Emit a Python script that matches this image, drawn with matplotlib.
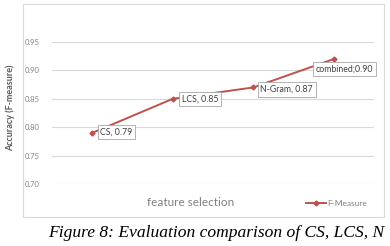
import matplotlib.pyplot as plt
from matplotlib.patches import Rectangle

# data
features = ["CS", "LCS", "N-Gram", "combined"]
f_measure = [0.79, 0.85, 0.87, 0.92]
point_labels = ["CS, 0.79", "LCS, 0.85", "N-Gram, 0.87", "combined;0.90"]
yticks = [0.70, 0.75, 0.80, 0.85, 0.90, 0.95]

line_col = "#C0504D"
grey = "#808080"

fig = plt.figure(figsize=(3.9, 2.46), dpi=100)
W, H = 390, 246

# outer chart frame
fig.patches.append(Rectangle((23 / W, 1 - 217 / H), (384 - 23) / W, (217 - 4) / H,
                             transform=fig.transFigure, fill=False,
                             ec="#d9d9d9", lw=0.8))

ax = fig.add_axes([52 / W, 1 - 184 / H, (374 - 52) / W, (184 - 42) / H])
x = list(range(len(features)))
ax.plot(x, f_measure, color=line_col, lw=1.4, marker="D", ms=2.5, label="F-Measure")

ax.set_xlim(-0.5, len(features) - 0.5)
ax.set_ylim(0.70, 0.95)
ax.set_yticks(yticks)
ax.set_yticklabels([f"{v:.2f}" for v in yticks])
ax.set_xticks([])
ax.grid(axis="y", color="#d9d9d9", lw=0.8)
ax.set_axisbelow(True)
for s in ax.spines.values():
    s.set_visible(False)
ax.tick_params(axis="y", length=0, labelsize=5.5, labelcolor=grey, pad=9)
for t in ax.get_yticklabels():
    t.set_family("Lato")

# data labels
offsets = [(8, 1), (9, 0), (7, -2), (-18, -10)]
for xi, yi, lab, off in zip(x, f_measure, point_labels, offsets):
    ax.annotate(lab, (xi, yi), xytext=off, textcoords="offset pixels",
                ha="left", va="center", fontsize=6.3, family="Lato", color="#404040",
                bbox=dict(boxstyle="square,pad=0.3", fc="white", ec="#a6a6a6", lw=0.6))

fig.text(10 / W, 1 - 108 / H, "Accuracy (F-measure)", rotation=90, ha="center", va="center",
         fontsize=6.5, family="Lato", color="#595959", fontweight="bold")
fig.text(191 / W, 1 - 203 / H, "feature selection", ha="center", va="center",
         fontsize=8.5, family="Lato", color=grey)

leg = ax.legend(loc="center left", bbox_to_anchor=(306 / W, 1 - 203 / H),
                bbox_transform=fig.transFigure, frameon=False,
                prop={"family": "Lato", "size": 6}, handlelength=2.4,
                handletextpad=0.1, borderpad=0, borderaxespad=0)
for t in leg.get_texts():
    t.set_color(grey)

fig.text(48 / W, 1 - 233 / H, "Figure 8: Evaluation comparison of CS, LCS, N",
         ha="left", va="center", fontsize=12.6, family="Liberation Serif", style="italic")

fig.savefig("out.png", dpi=100)
